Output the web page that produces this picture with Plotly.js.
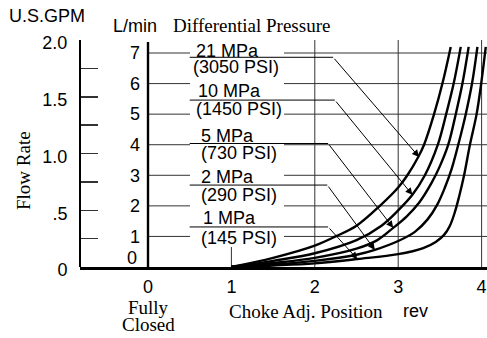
<!DOCTYPE html>
<html><head><meta charset="utf-8">
<script src="https://cdn.plot.ly/plotly-3.0.1.min.js"></script>
<style>html,body{margin:0;padding:0;background:#fff}#chart{width:487px;height:338px}</style>
</head><body><div id="chart"></div>
<script>
// ---- data ----
const pressureMPa = ['21 MPa','10 MPa','5 MPa','2 MPa','1 MPa'];
const pressurePSI = ['(3050 PSI)','(1450 PSI)','(730 PSI)','(290 PSI)','(145 PSI)'];

const rev21 = [1.0,1.5,2.0,2.25,2.5,2.78,3.0,3.11,3.24,3.31,3.43,3.53,3.63];
const flow21 = [0,0.3,0.7,1.0,1.35,2.0,2.6,3.0,3.6,4.0,5.0,6.0,7.2];
const rev10 = [1.0,1.5,2.0,2.5,2.8,3.0,3.17,3.32,3.475,3.575,3.665,3.75];
const flow10 = [0,0.2,0.45,0.88,1.35,1.85,2.36,3.0,4.0,5.0,6.0,7.2];
const rev5 = [1.0,1.5,2.0,2.5,2.75,2.94,3.1,3.25,3.4,3.5,3.6,3.69,3.77,3.845];
const flow5 = [0,0.13,0.3,0.6,0.88,1.28,1.65,2.1,2.75,3.3,4.0,5.0,6.0,7.2];
const rev2 = [1.0,1.5,2.0,2.5,2.72,3.0,3.2,3.35,3.47,3.56,3.64,3.72,3.81,3.885,3.95];
const flow2 = [0,0.08,0.2,0.4,0.56,0.85,1.15,1.55,2.05,2.6,3.2,4.0,5.0,6.0,7.2];
const rev1 = [1.0,1.5,2.0,2.51,3.0,3.3,3.45,3.55,3.62,3.68,3.73,3.79,3.86,3.94,3.995,4.05];
const flow1 = [0,0.05,0.12,0.26,0.42,0.62,0.82,1.05,1.35,1.8,2.3,3.0,4.0,5.0,6.0,7.2];

const xTicks = [0,1,2,3,4];
const xTickText = ['0','1','2','3','4'];
const lminTicks = [0,1,2,3,4,5,6,7];
const lminTickText = ['0','1','2','3','4','5','6','7'];
const gpmTicks = [0,0.25,0.5,0.75,1.0,1.25,1.5,1.75,2.0];
const gpmTickText = ['0','','.5','','1.0','','1.5','','2.0'];

// ---- layout helpers ----
const SANS = 'Liberation Sans, Arial, sans-serif';
const SERIF = 'Liberation Serif, Times New Roman, serif';
const L = 80, T = 40, PW = 407, PH = 227;
const PX = p => (p - L) / PW;
const PY = p => (T + PH - p) / PH;

const series = [
  [rev21, flow21], [rev10, flow10], [rev5, flow5], [rev2, flow2], [rev1, flow1]
];
const traces = series.map(([x, y]) => ({
  x: x, y: y, type: 'scatter', mode: 'lines',
  line: {color: '#000', width: 2.4, shape: 'spline', smoothing: 1.0},
  hoverinfo: 'skip', showlegend: false, xaxis: 'x', yaxis: 'y'
}));
traces.push({x: [null], y: [null], type: 'scatter', mode: 'none', yaxis: 'y2', showlegend: false, hoverinfo: 'skip'});

// label / leader geometry (annotation placement)
const mpaY = [7.08, 5.77, 4.30, 2.94, 1.60];
const psiY = [6.54, 5.17, 3.73, 2.34, 0.96];
const mpaX = [0.55, 0.57, 0.61, 0.61, 0.63];
const psiX = [0.52, 0.55, 0.61, 0.61, 0.61];
const underY = [6.86, 5.46, 4.04, 2.68, 1.31];
const kneeX = [2.22, 2.24, 2.16, 2.15, 2.16];
const tipX = [3.25, 3.17, 2.94, 2.72, 2.51];
const tipY = [3.6, 2.36, 1.28, 0.56, 0.26];

const shapes = [];
lminTicks.filter(v => v > 0).forEach(v => shapes.push({
  type: 'line', xref: 'x', yref: 'y', x0: 0, x1: 4.2, y0: v, y1: v,
  line: {color: '#333', width: 1}, layer: 'below'
}));
xTicks.filter(v => v > 0).forEach(v => shapes.push({
  type: 'line', xref: 'x', yref: 'y', x0: v, x1: v, y0: 0, y1: 7.5,
  line: {color: '#333', width: 1}, layer: 'below'
}));
shapes.push({type: 'rect', xref: 'x', yref: 'y', x0: 0.504, x1: 1.631, y0: 0.654, y1: 7.6,
  fillcolor: '#fff', line: {width: 0}, layer: 'below'});
// L/min axis line (at x = 0 turns)
shapes.push({type: 'rect', xref: 'paper', yref: 'paper', x0: PX(146.8), x1: PX(149.2), y0: 0, y1: PY(42),
  fillcolor: '#000', line: {width: 0}, layer: 'above'});
underY.forEach((u, i) => shapes.push({
  type: 'line', xref: 'x', yref: 'y', x0: 0.5, x1: kneeX[i], y0: u, y1: u,
  line: {color: '#000', width: 1}, layer: 'above'
}));

const ann = [];
const txt = (text, x, y, opts) => ann.push(Object.assign({
  text: text, x: x, y: y, xref: 'paper', yref: 'paper', showarrow: false,
  xanchor: 'left', yanchor: 'middle', font: {family: SANS, size: 18, color: '#000'}
}, opts || {}));

txt('U.S.GPM', PX(7), PY(16));
txt('L/min', PX(111), PY(26));
txt('Differential Pressure', PX(171), PY(26), {font: {family: SERIF, size: 19, color: '#000'}});
txt('Flow Rate', PX(23), PY(171), {xanchor: 'center', textangle: -90, font: {family: SERIF, size: 19, color: '#000'}});
txt('Fully', PX(148), PY(307), {xanchor: 'center', font: {family: SERIF, size: 19, color: '#000'}});
txt('Closed', PX(148), PY(324), {xanchor: 'center', font: {family: SERIF, size: 19, color: '#000'}});
txt('Choke Adj. Position', PX(227), PY(311), {font: {family: SERIF, size: 19, color: '#000'}});
txt('rev', PX(401), PY(311));
// L/min zero label (raised above the baseline)
ann.push({text: lminTickText[0], x: 0, y: lminTicks[0], xref: 'x', yref: 'y', showarrow: false,
  xanchor: 'right', yanchor: 'middle', xshift: -9, yshift: 9, font: {family: SANS, size: 18, color: '#000'}});

pressureMPa.forEach((t, i) => {
  ann.push({text: t, x: mpaX[i], y: mpaY[i], xref: 'x', yref: 'y', showarrow: false,
    xanchor: 'left', yanchor: 'middle', font: {family: SANS, size: 18, color: '#000'}});
  ann.push({text: pressurePSI[i], x: psiX[i], y: psiY[i], xref: 'x', yref: 'y', showarrow: false,
    xanchor: 'left', yanchor: 'middle', font: {family: SANS, size: 18, color: '#000'}});
  ann.push({text: '', x: tipX[i], y: tipY[i], xref: 'x', yref: 'y', ax: kneeX[i], ay: underY[i],
    axref: 'x', ayref: 'y', showarrow: true, arrowhead: 2, arrowsize: 1.4, arrowwidth: 1,
    arrowcolor: '#000', standoff: 0});
});

const layout = {
  width: 487, height: 338,
  margin: {l: L, r: 487 - L - PW, t: T, b: 338 - T - PH, pad: 0},
  paper_bgcolor: '#fff', plot_bgcolor: '#fff',
  showlegend: false,
  xaxis: {
    domain: [0, 1], range: [(80 - 148) / 83.4, (487 - 148) / 83.4],
    tickvals: xTicks, ticktext: xTickText, ticks: '', showgrid: false, zeroline: false,
    showline: true, linewidth: 2.5, linecolor: '#000', anchor: 'y',
    tickfont: {family: SANS, size: 18, color: '#000'}, ticklabelstandoff: 2
  },
  yaxis: {
    domain: [0, 1], range: [0, PH / 30.57], anchor: 'free', position: PX(148), side: 'left',
    tickvals: lminTicks.slice(1), ticktext: lminTickText.slice(1), ticks: '',
    showgrid: false, zeroline: false, showline: false,
    tickfont: {family: SANS, size: 18, color: '#000'}, ticklabelstandoff: 8
  },
  yaxis2: {
    overlaying: 'y', anchor: 'free', position: 0, side: 'left', range: [0, 2.0],
    tickvals: gpmTicks, ticktext: gpmTickText, ticks: 'inside', ticklen: 17, tickwidth: 1.5,
    tickcolor: '#333', showgrid: false, zeroline: false, showline: true, linewidth: 2,
    linecolor: '#000', tickfont: {family: SANS, size: 18, color: '#000'},
    ticklabelstandoff: 8, ticklabelshift: 3
  },
  shapes: shapes,
  annotations: ann
};

Plotly.newPlot('chart', traces, layout, {staticPlot: true, displayModeBar: false});
</script>
</body></html>
